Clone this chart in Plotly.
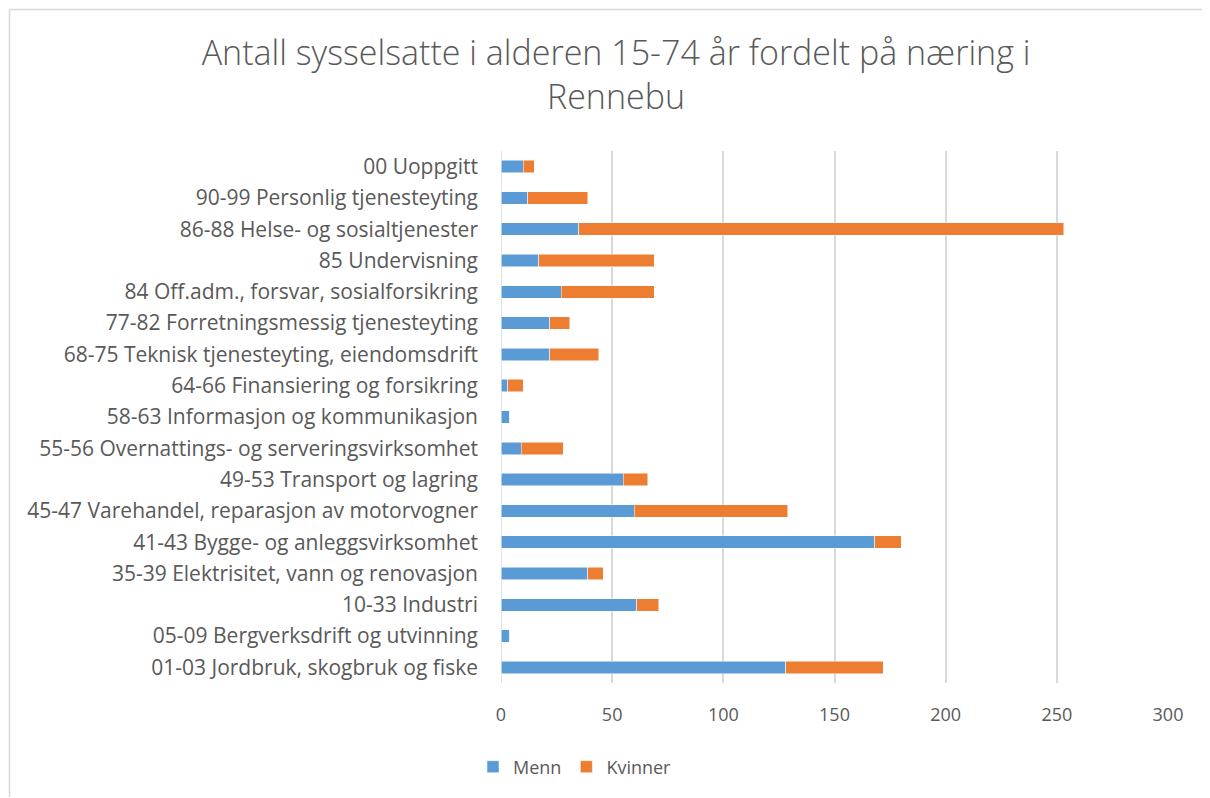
import plotly.graph_objects as go

categories = [
    "01-03 Jordbruk, skogbruk og fiske",
    "05-09 Bergverksdrift og utvinning",
    "10-33 Industri",
    "35-39 Elektrisitet, vann og renovasjon",
    "41-43 Bygge- og anleggsvirksomhet",
    "45-47 Varehandel, reparasjon av motorvogner",
    "49-53 Transport og lagring",
    "55-56 Overnattings- og serveringsvirksomhet",
    "58-63 Informasjon og kommunikasjon",
    "64-66 Finansiering og forsikring",
    "68-75 Teknisk tjenesteyting, eiendomsdrift",
    "77-82 Forretningsmessig tjenesteyting",
    "84 Off.adm., forsvar, sosialforsikring",
    "85 Undervisning",
    "86-88 Helse- og sosialtjenester",
    "90-99 Personlig tjenesteyting",
    "00 Uoppgitt",
]
menn = [128, 4, 61, 39, 168, 60, 55, 9, 4, 3, 22, 22, 27, 17, 35, 12, 10]
kvinner = [44, 0, 10, 7, 12, 69, 11, 19, 0, 7, 22, 9, 42, 52, 218, 27, 5]
x_ticks = [0, 50, 100, 150, 200, 250, 300]

FONT = "Open Sans"
GREY = "#595959"

W, H = 1210, 798
OFF = 8  # page body margin offsets the figure
PL, PR, PT, PB = 501, 1168, 151, 683   # desired plot area in page pixels
PW, PH = PR - PL, PB - PT

fig = go.Figure()
fig.add_trace(go.Bar(y=categories, x=menn, name="Menn", orientation="h",
                     marker=dict(color="#5B9BD5", line=dict(color="white", width=0.5))))
fig.add_trace(go.Bar(y=categories, x=kvinner, name="Kvinner", orientation="h",
                     marker=dict(color="#ED7D31", line=dict(color="white", width=0.5))))

fig.update_layout(
    barmode="stack",
    bargap=0.6,
    width=W, height=H,
    margin=dict(l=PL - OFF, r=W - PR + OFF, t=PT - OFF, b=H - PB + OFF),
    paper_bgcolor="white", plot_bgcolor="white",
    font=dict(family=FONT, size=19, color=GREY),
    title=dict(text="Antall sysselsatte i alderen 15-74 år fordelt på næring i<br>Rennebu",
               x=608 / W, xanchor="center", y=1 - 57 / H, yanchor="top",
               font=dict(family=FONT, size=34, color=GREY, weight=300)),
    legend=dict(orientation="h", x=(473 - PL) / PW, xanchor="left",
                y=(PB - 767) / PH, yanchor="middle",
                font=dict(family=FONT, size=18, color=GREY),
                itemwidth=30, traceorder="normal"),
    xaxis=dict(range=[0, 300], tickvals=x_ticks, showgrid=True, gridcolor="#D9D9D9",
               gridwidth=1.5, zeroline=False, showline=False, ticks="",
               ticklabelstandoff=19, tickfont=dict(size=18, color=GREY)),
    yaxis=dict(showgrid=False, zeroline=False, showline=False, ticks="",
               ticklabelstandoff=22, tickfont=dict(size=21, color=GREY)),
)
fig.add_shape(type="line", xref="x", yref="paper", x0=0, x1=0, y0=0, y1=1,
              line=dict(color="#D9D9D9", width=1.5), layer="below")
# chart border (left and top edges visible)
bx0, by0 = (9.5 - PL) / PW, (PB - 9.5) / PH
fig.add_shape(type="line", xref="paper", yref="paper", x0=bx0, x1=bx0,
              y0=(PB - 797) / PH, y1=by0, line=dict(color="#D9D9D9", width=1.5))
fig.add_shape(type="line", xref="paper", yref="paper", x0=bx0, x1=(1209 - PL) / PW,
              y0=by0, y1=by0, line=dict(color="#D9D9D9", width=1.5))

fig.write_html("out.html")
